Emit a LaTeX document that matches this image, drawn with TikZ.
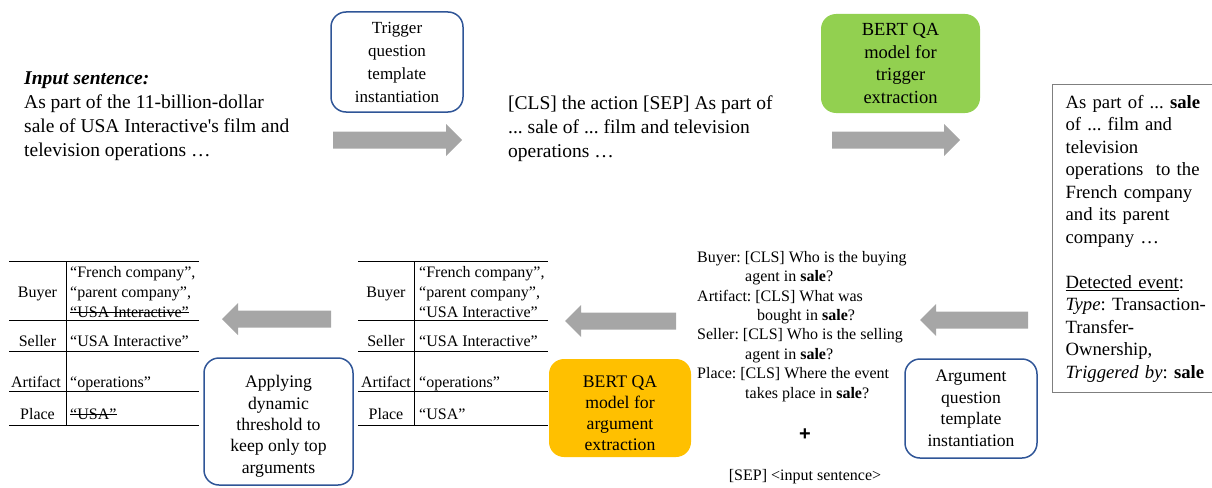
\documentclass[tikz,border=0pt]{standalone}
\usepackage{fontspec}
\setmainfont{Liberation Serif}
\newfontfamily\plusfont{Liberation Sans}
\frenchspacing

\definecolor{boxblue}{HTML}{2F5597}
\definecolor{qagreen}{HTML}{92D050}
\definecolor{qaorange}{HTML}{FFC000}
\definecolor{arrowgray}{HTML}{A6A6A6}
\definecolor{framegray}{HTML}{7F7F7F}

% wide grey block arrow from x=#1 to the tip at x=#2, on the line y=#3
\newcommand\blockarrow[3]{%
  \pgfmathsetmacro\hdlen{16*sign(#2-#1)}%
  \fill[arrowfill] (#1,#3-8.5) -- ({#2-\hdlen},#3-8.5) -- ({#2-\hdlen},#3-16)
    -- (#2,#3) -- ({#2-\hdlen},#3+16) -- ({#2-\hdlen},#3+8.5) -- (#1,#3+8.5) -- cycle;}

\begin{document}
\begin{tikzpicture}[x=1pt,y=-1pt,
  arrowfill/.style={fill=arrowgray},
  stepbox/.style={draw=boxblue, line width=1.5pt, rounded corners=15pt,
    align=center, inner sep=2pt},
  modelbox/.style={rounded corners=15pt, align=center, inner sep=2pt},
  plain/.style={inner sep=0pt, align=left},
  big/.style={font=\fontsize{19.5}{23.7}\selectfont},
  small/.style={font=\fontsize{16}{19.4}\selectfont},
  cell/.style={inner sep=0pt, font=\fontsize{16}{20}\selectfont},
  rule/.style={line width=1pt},
  strike/.style={line width=1pt}]
\useasboundingbox (0,0) rectangle (1212,487);

% ---------- top row ----------
\node[plain, big, anchor=north west] (input) at (24,72)
  {\textbf{\textit{Input sentence:}}\\
   As part of the 11-billion-dollar\\
   sale of USA Interactive\textquotesingle s film and\\
   television operations …};

\node[stepbox, minimum width=132, minimum height=100,
  font=\fontsize{17}{23}\selectfont] (trigq) at (397,62)
  {Trigger\\question\\template\\instantiation};

\blockarrow{333}{462}{140}

\node[plain, big, anchor=north west] (clsin) at (508,96)
  {[CLS] the action [SEP] As part of\\
   ... sale of ... film and television\\
   operations …};

\node[modelbox, fill=qagreen, minimum width=159, minimum height=99,
  font=\fontsize{18.5}{22.7}\selectfont] (trigqa) at (900.5,63.5)
  {BERT QA\\model for\\trigger\\extraction};

\blockarrow{832}{960}{140}

% ---------- detected event ----------
\node[draw=framegray, line width=1.2pt, anchor=north west, inner xsep=13pt,
  text width=150pt, minimum height=308, align=left,
  font=\fontsize{18.7}{22.5}\selectfont] (event) at (1052,84)
  {As part of ... \textbf{sale}\\
   of ... film and\\
   television\\
   operations\ \ to the\\
   French company\\
   and its parent\\
   company …\\[22.5pt]
   \underline{Detected event}:\\
   \textit{Type}: Transaction-\\
   Transfer-\\
   Ownership,\\
   \textit{Triggered by}: \textbf{sale}};

\blockarrow{1028}{920}{320}

\node[stepbox, minimum width=132, minimum height=99,
  font=\fontsize{17.6}{21.5}\selectfont] (argq) at (971,408.5)
  {Argument\\question\\template\\instantiation};

% ---------- argument questions ----------
\node[plain, small, anchor=north west] (questions) at (697,251)
  {Buyer: [CLS] Who is the buying\\
   \hspace*{48pt}agent in \textbf{sale}?\\
   Artifact: [CLS] What was\\
   \hspace*{60pt}bought in \textbf{sale}?\\
   Seller: [CLS] Who is the selling\\
   \hspace*{48pt}agent in \textbf{sale}?\\
   Place: [CLS] Where the event\\
   \hspace*{48pt}takes place in \textbf{sale}?};

\node[inner sep=0pt, font=\plusfont\bfseries\fontsize{20}{20}\selectfont] (plus) at (805,435) {+};
\node[inner sep=0pt, small] (sep) at (805,477) {[SEP] <input sentence>};

\node[modelbox, fill=qaorange, minimum width=142, minimum height=98,
  font=\fontsize{17.7}{21}\selectfont] (argqa) at (620,408)
  {\rule{0pt}{22pt}BERT QA\\model for\\argument\\extraction};

\blockarrow{676}{565}{321}

% ---------- table of candidate arguments ----------
\foreach \yy in {261,320,351,391,425} \draw[rule] (358,\yy) -- (548,\yy);
\draw[rule] (414,261) -- (414,425);
\node[cell, anchor=base] (mbuyer) at (386,297) {Buyer};
\node[cell, anchor=base] (mseller) at (386,346) {Seller};
\node[cell, anchor=base] (martifact) at (386,387) {Artifact};
\node[cell, anchor=base] (mplace) at (386,419) {Place};
\node[cell, anchor=base west] (mb1) at (419,277) {“French company”,};
\node[cell, anchor=base west] (mb2) at (419,297) {“parent company”,};
\node[cell, anchor=base west] (mb3) at (419,317) {“USA Interactive”};
\node[cell, anchor=base west] (ms1) at (419,346) {“USA Interactive”};
\node[cell, anchor=base west] (ma1) at (419,387) {“operations”};
\node[cell, anchor=base west] (mp1) at (419,419) {“USA”};

\blockarrow{331}{222}{319}

\node[stepbox, minimum width=149, minimum height=127,
  font=\fontsize{17.7}{21.3}\selectfont] (thresh) at (278.5,421.5)
  {\rule{0pt}{22pt}Applying\\dynamic\\threshold to\\keep only top\\arguments};

% ---------- table of kept arguments ----------
\foreach \yy in {261,320,351,391,425} \draw[rule] (9,\yy) -- (199,\yy);
\draw[rule] (66,261) -- (66,425);
\node[cell, anchor=base] (lbuyer) at (37.5,297) {Buyer};
\node[cell, anchor=base] (lseller) at (37.5,346) {Seller};
\node[cell, anchor=base] (lartifact) at (36,387) {Artifact};
\node[cell, anchor=base] (lplace) at (37.5,419) {Place};
\node[cell, anchor=base west] (lb1) at (70,277) {“French company”,};
\node[cell, anchor=base west] (lb2) at (70,297) {“parent company”,};
\node[cell, anchor=base west] (lb3) at (70,317) {“USA Interactive”};
\node[cell, anchor=base west] (ls1) at (70,346) {“USA Interactive”};
\node[cell, anchor=base west] (la1) at (70,387) {“operations”};
\node[cell, anchor=base west] (lp1) at (70,419) {“USA”};
\draw[strike] ([yshift=4.5pt]lb3.base west) -- ([yshift=4.5pt]lb3.base east);
\draw[strike] ([yshift=4.5pt]lp1.base west) -- ([yshift=4.5pt]lp1.base east);
\end{tikzpicture}
\end{document}
